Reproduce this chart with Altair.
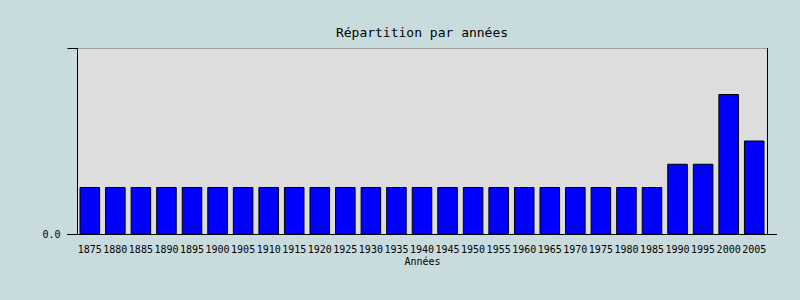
import altair as alt
import pandas as pd

# Number of entries per five-year period
years = [1875, 1880, 1885, 1890, 1895, 1900, 1905, 1910, 1915, 1920,
         1925, 1930, 1935, 1940, 1945, 1950, 1955, 1960, 1965, 1970,
         1975, 1980, 1985, 1990, 1995, 2000, 2005]
counts = [2, 2, 2, 2, 2, 2, 2, 2, 2, 2,
          2, 2, 2, 2, 2, 2, 2, 2, 2, 2,
          2, 2, 2, 3, 3, 6, 4]
y_max = 8

df = pd.DataFrame({"annee": [str(y) for y in years], "n": counts})

W, H = 690, 186
FONT = "DejaVu Sans Mono"

x_enc = alt.X(
    "annee:N",
    sort=None,
    scale=alt.Scale(paddingInner=0.235, paddingOuter=0.118),
    axis=alt.Axis(
        title="Années",
        labelAngle=0,
        labelOverlap=False,
        labelFont=FONT,
        labelFontSize=10,
        labelColor="black",
        labelPadding=10,
        ticks=False,
        domain=False,
        titleFont=FONT,
        titleFontSize=10,
        titleFontWeight="normal",
        titleColor="black",
        titlePadding=2,
    ),
)

y_scale = alt.Scale(domain=[0, y_max], nice=False)

bars = alt.Chart(df).mark_bar(
    color="#0000FF", stroke="black", strokeWidth=1
).encode(
    x=x_enc,
    y=alt.Y(
        "n:Q",
        scale=y_scale,
        axis=alt.Axis(
            title=None,
            values=[0, y_max],
            labelExpr="datum.value == 0 ? '0.0' : ''",
            grid=False,
            tickSize=10,
            tickColor="black",
            domainColor="black",
            labelFont=FONT,
            labelFontSize=10,
            labelColor="black",
            labelPadding=7,
        ),
    ),
)

# Baseline extending past both sides of the plot area
baseline = alt.Chart(df).mark_rule(
    color="black", strokeWidth=1, yOffset=0.5
).encode(
    y=alt.datum(0, scale=y_scale),
    x=alt.value(-10),
    x2=alt.value(W + 10),
)

# Right frame edge
right_edge = alt.Chart(df).mark_rule(
    color="black", strokeWidth=1, xOffset=0.5
).encode(
    x=alt.value(W),
    y=alt.value(0),
    y2=alt.value(H),
)

chart = alt.layer(bars, baseline, right_edge).properties(
    width=W,
    height=H,
    title=alt.TitleParams(
        "Répartition par années",
        font=FONT,
        fontSize=13,
        fontWeight="normal",
        color="black",
        anchor="middle",
        offset=8,
    ),
    background="#C8DCDE",
    autosize=alt.AutoSizeParams(type="none"),
    padding={"left": 77, "top": 48, "right": 33, "bottom": 66},
).configure_view(
    fill="#DDDDDD",
    stroke="#A0A0A0",
    strokeWidth=1,
)

chart.save("out.html", embed_options={"renderer": "svg", "actions": False})
